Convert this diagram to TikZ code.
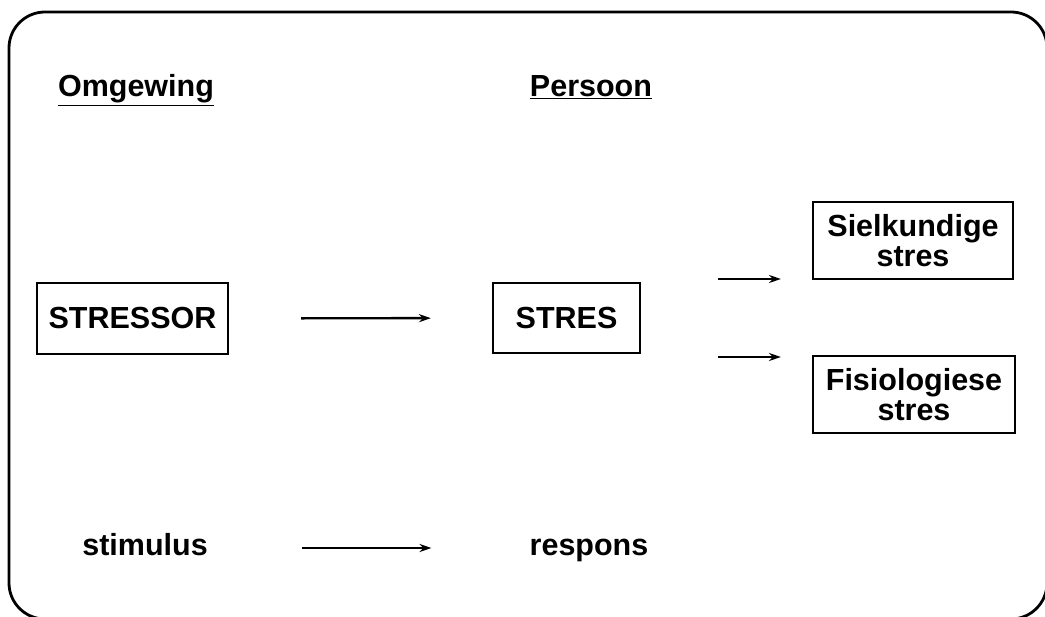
\documentclass[tikz,border=0pt]{standalone}
\usepackage{fontspec}
\setmainfont{Liberation Sans}
\usetikzlibrary{arrows.meta}

\tikzset{
  lbl/.style={font=\fontsize{30.5}{30}\selectfont\bfseries, inner sep=0pt},
  stbox/.style={lbl, draw, line width=2.1pt, align=center},
  arr/.style={line width=2.4pt, -{Stealth[length=12pt, width=8pt]}}
}

\begin{document}
\begin{tikzpicture}[x=1pt, y=-1pt]
        \useasboundingbox (0,0) rectangle (1045,617);
        \clip (0,0) rectangle (1045,617);

        % outer frame
        \draw[line width=2.8pt, rounded corners=36pt] (9,12) rectangle (1047,619);

        % headings
        \node[lbl, anchor=base] (omg) at (136,97) {\underline{Omgewing}};
        \node[lbl, anchor=base] (pers) at (591,97) {\underline{Persoon}};

        % boxes
        \node[stbox, minimum width=191pt, minimum height=71pt] (stressor) at (132.5,318.5) {STRESSOR};
        \node[stbox, minimum width=147pt, minimum height=70pt] (stres) at (566.5,318) {STRES};
        \node[stbox, minimum width=200pt, minimum height=77pt] (siel) at (913,240.5) {Sielkundige\\stres};
        \node[stbox, minimum width=202pt, minimum height=77pt] (fisio) at (914,394.5) {Fisiologiese\\stres};

        % bottom row
        \node[lbl, anchor=base] (stim) at (145,555) {stimulus};
        \node[lbl, anchor=base] (resp) at (589,555) {respons};

        \coordinate (up0) at (718,279);
        \coordinate (dn0) at (718,357);
        \coordinate (sr0) at (302,548);

        % arrows
        \draw[arr, shorten <=72pt, shorten >=61pt] (stressor) -- (stres);
        \draw[arr, shorten >=31pt] (up0) -- (up0 -| siel.west);
        \draw[arr, shorten >=31pt] (dn0) -- (dn0 -| fisio.west);
        \draw[arr, shorten >=98pt] (sr0) -- (sr0 -| resp.west);
\end{tikzpicture}
\end{document}
